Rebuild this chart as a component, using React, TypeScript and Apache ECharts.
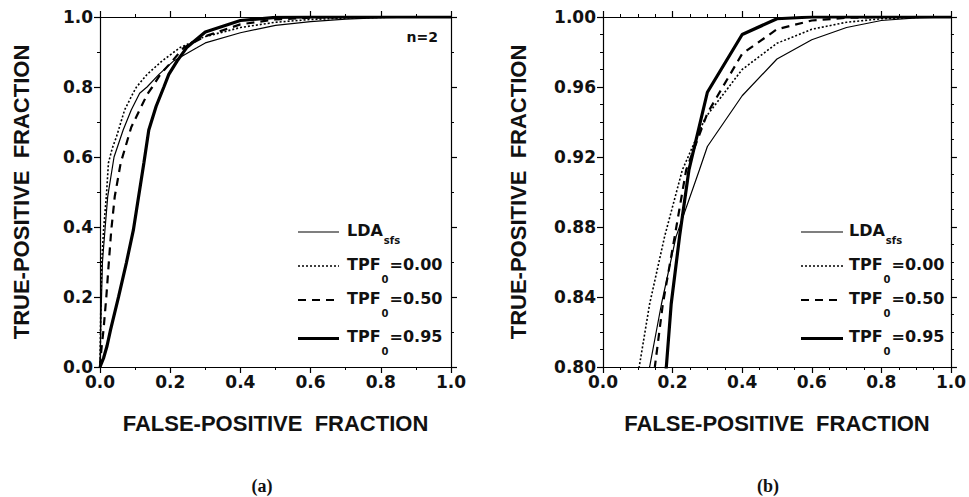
import React, { useEffect, useRef } from "react";
import * as echarts from "echarts";

// ROC curves: false-positive fraction (x) vs true-positive fraction (y)
const fpfLDA = [0, 0.003, 0.007, 0.014, 0.022, 0.04, 0.066, 0.089, 0.113, 0.134, 0.168, 0.21, 0.277, 0.3, 0.4, 0.5, 0.6, 0.7, 0.8, 0.9, 1.0];
const tpfLDA = [0, 0.15, 0.3, 0.39, 0.487, 0.6, 0.677, 0.734, 0.782, 0.8, 0.836, 0.8745, 0.9126, 0.926, 0.955, 0.976, 0.987, 0.994, 0.998, 0.9995, 1.0];

const fpfT000 = [0, 0.002, 0.005, 0.01, 0.018, 0.024, 0.035, 0.047, 0.07, 0.094, 0.104, 0.134, 0.177, 0.228, 0.291, 0.3, 0.4, 0.5, 0.6, 0.7, 0.8, 0.9, 1.0];
const tpfT000 = [0, 0.15, 0.3, 0.39, 0.487, 0.583, 0.625, 0.658, 0.734, 0.782, 0.8, 0.836, 0.8745, 0.9126, 0.941, 0.944, 0.97, 0.985, 0.993, 0.997, 0.999, 0.9998, 1.0];

const fpfT050 = [0, 0.002, 0.005, 0.01, 0.018, 0.025, 0.032, 0.042, 0.059, 0.089, 0.135, 0.149, 0.172, 0.206, 0.239, 0.3, 0.4, 0.5, 0.6, 0.7, 0.8, 0.9, 1.0];
const tpfT050 = [0, 0.03, 0.06, 0.106, 0.2, 0.297, 0.39, 0.487, 0.583, 0.685, 0.78, 0.8, 0.836, 0.8745, 0.9126, 0.945, 0.979, 0.993, 0.998, 0.9995, 1.0, 1.0, 1.0];

const fpfT095 = [0, 0.01, 0.02, 0.03, 0.053, 0.075, 0.095, 0.11, 0.125, 0.139, 0.16, 0.182, 0.196, 0.22, 0.247, 0.3, 0.4, 0.5, 0.6, 0.7, 0.8, 0.9, 1.0];
const tpfT095 = [0, 0.025, 0.06, 0.106, 0.201, 0.297, 0.391, 0.487, 0.583, 0.677, 0.745, 0.8, 0.836, 0.8745, 0.9126, 0.957, 0.99, 0.999, 1.0, 1.0, 1.0, 1.0, 1.0];

const legendTexts = ["{m|LDA}{s1|sfs}", "{m|TPF}{s0|0}{m|=0.00}", "{m|TPF}{s0|0}{m|=0.50}", "{m|TPF}{s0|0}{m|=0.95}"];
const xTitle = "FALSE-POSITIVE  FRACTION";
const yTitle = "TRUE-POSITIVE  FRACTION";
const panelTags = ["(a)", "(b)"];
const noteText = "n=2";

const BLACK = "#000";
const TICK_FONT = { fontFamily: "DejaVu Sans", fontWeight: "bold" as const, fontSize: 17, color: "#111" };
const TITLE_FONT = { fontFamily: "Liberation Sans, Arial", fontWeight: "bold" as const, fontSize: 22, color: "#111" };

const styles = [
  { width: 1.2, type: "solid" as any },
  { width: 1.6, type: [2, 2] as any },
  { width: 2.2, type: [8, 6] as any },
  { width: 3.2, type: "solid" as any },
];

function pairs(xs: number[], ys: number[]) {
  return xs.map((x, i) => [x, ys[i]]);
}

function axisCommon(gridIndex: number, position: string, min: number, max: number, interval: number, split: number, showLabel: boolean, digits: number, margin: number) {
  return {
    type: "value",
    gridIndex,
    position,
    min,
    max,
    interval,
    axisLine: { show: true, onZero: false, lineStyle: { color: BLACK, width: 1.2 } },
    axisTick: { show: true, inside: false, length: 6, lineStyle: { color: BLACK, width: 1.2 } },
    minorTick: { show: true, splitNumber: split, length: 3, lineStyle: { color: BLACK, width: 1 } },
    splitLine: { show: false },
    minorSplitLine: { show: false },
    axisLabel: {
      show: showLabel,
      margin,
      ...TICK_FONT,
      formatter: (v: number) => v.toFixed(digits),
    },
  };
}

export default function App() {
  const ref = useRef<HTMLDivElement>(null);
  useEffect(() => {
    if (!ref.current) return;
    const chart = echarts.init(ref.current, undefined, { renderer: "svg" });

    const grids = [
      { left: 100, top: 17, width: 351, height: 350 },
      { left: 603, top: 17, width: 350, height: 350 },
    ];

    const xAxes = [
      { ...axisCommon(0, "bottom", 0, 1, 0.2, 2, true, 1, 6), name: xTitle, nameLocation: "middle", nameGap: 45, nameTextStyle: TITLE_FONT },
      axisCommon(0, "top", 0, 1, 0.2, 2, false, 1, 6),
      { ...axisCommon(1, "bottom", 0, 1, 0.2, 4, true, 1, 6), name: xTitle, nameLocation: "middle", nameGap: 45, nameTextStyle: TITLE_FONT },
      axisCommon(1, "top", 0, 1, 0.2, 4, false, 1, 6),
    ];
    const yAxes = [
      { ...axisCommon(0, "left", 0, 1, 0.2, 2, true, 1, 7), name: yTitle, nameLocation: "middle", nameGap: 68, nameTextStyle: TITLE_FONT },
      axisCommon(0, "right", 0, 1, 0.2, 2, false, 1, 7),
      { ...axisCommon(1, "left", 0.8, 1.0, 0.04, 4, true, 2, 7), name: yTitle, nameLocation: "middle", nameGap: 74, nameTextStyle: TITLE_FONT },
      axisCommon(1, "right", 0.8, 1.0, 0.04, 4, false, 2, 7),
    ];

    const curves = [
      pairs(fpfLDA, tpfLDA),
      pairs(fpfT000, tpfT000),
      pairs(fpfT050, tpfT050),
      pairs(fpfT095, tpfT095),
    ];

    const series: any[] = [];
    [0, 1].forEach((p) => {
      curves.forEach((data, i) => {
        series.push({
          type: "line",
          xAxisIndex: p * 2,
          yAxisIndex: p * 2,
          data,
          symbol: "none",
          showSymbol: false,
          clip: true,
          smooth: false,
          lineStyle: { color: BLACK, width: styles[i].width, type: styles[i].type },
          z: 2 + i,
        });
      });
    });

    const legendRows = [232, 266, 300, 338.5];
    const legendX = [{ l1: 298, l2: 339, t: 347 }, { l1: 801, l2: 843, t: 849 }];
    const graphic: any[] = [];
    legendX.forEach((lx) => {
      legendRows.forEach((y, i) => {
        graphic.push({
          type: "line",
          shape: { x1: lx.l1, y1: y, x2: lx.l2, y2: y },
          style: { stroke: BLACK, lineWidth: styles[i].width, lineDash: Array.isArray(styles[i].type) ? styles[i].type : null },
          z: 10,
        });
        graphic.push({
          type: "text",
          x: lx.t,
          y: y - 10,
          z: 10,
          style: {
            text: legendTexts[i],
            align: "left",
            verticalAlign: "top",
            fill: "#111",
            rich: {
              m: { fontFamily: "DejaVu Sans", fontWeight: "bold", fontSize: 16, lineHeight: 18, verticalAlign: "top", fill: "#111" },
              s1: { fontFamily: "DejaVu Sans", fontWeight: "bold", fontSize: 10, lineHeight: 12, verticalAlign: "top", padding: [13, 1, 0, 1], fill: "#111" },
              s0: { fontFamily: "DejaVu Sans", fontWeight: "bold", fontSize: 10, lineHeight: 12, verticalAlign: "top", padding: [18, 1, 0, 1], fill: "#111" },
            },
          },
        });
      });
    });
    graphic.push({
      type: "text",
      x: 438,
      y: 37,
      style: { text: noteText, align: "right", verticalAlign: "middle", fontFamily: "DejaVu Sans", fontWeight: "bold", fontSize: 14, fill: "#111" },
    });
    [262, 768].forEach((cx, i) => {
      graphic.push({
        type: "text",
        x: cx,
        y: 486,
        style: { text: panelTags[i], align: "center", verticalAlign: "middle", fontFamily: "Liberation Serif", fontWeight: "bold", fontSize: 18, fill: "#111" },
      });
    });

    chart.setOption({
      animation: false,
      backgroundColor: "#fff",
      grid: grids,
      xAxis: xAxes,
      yAxis: yAxes,
      series,
      graphic,
    });
    return () => chart.dispose();
  }, []);

  return <div ref={ref} style={{ position: "absolute", left: 0, top: 0, width: 969, height: 497, background: "#fff" }} />;
}
